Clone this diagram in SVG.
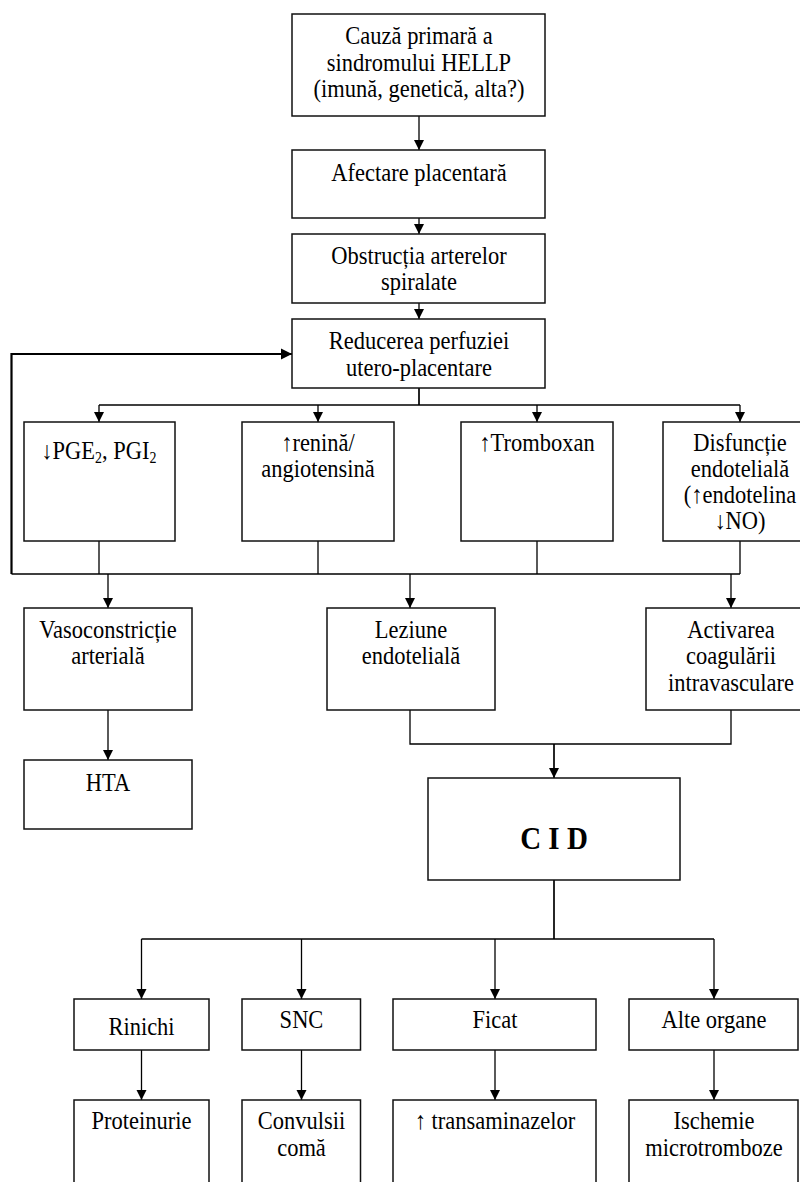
<svg xmlns="http://www.w3.org/2000/svg" width="800" height="1182" viewBox="0 0 800 1182">
<style>
.box{fill:#fff;stroke:#111;stroke-width:1.5}
text{font-family:"Liberation Serif","Times New Roman",serif;font-size:22.5px;fill:#000;text-anchor:middle;transform-box:fill-box;transform-origin:center;transform:scaleY(1.12)}
.ln{fill:none;stroke:#000;stroke-width:1.3}
.ln2{fill:none;stroke:#000;stroke-width:1.7}
.fb{fill:none;stroke:#000;stroke-width:2.2}
.cid{font-size:29px;font-weight:bold}
.sub{font-size:14px}
</style>
<defs>
<marker id="ah" markerUnits="userSpaceOnUse" markerWidth="10" markerHeight="11" refX="10" refY="5.5" orient="auto">
<path d="M0,0.5 L10,5.5 L0,10.5 z" fill="#000"/>
</marker>
<marker id="ahb" markerUnits="userSpaceOnUse" markerWidth="11" markerHeight="12" refX="11" refY="6" orient="auto">
<path d="M0,0.5 L11,6 L0,11.5 z" fill="#000"/>
</marker>
</defs>
<rect width="800" height="1182" fill="#fff"/>
<g id="connectors">
<path class="ln" d="M419,116 V150" marker-end="url(#ah)"/>
<path class="ln" d="M419,218 V234" marker-end="url(#ah)"/>
<path class="ln" d="M419,303 V319" marker-end="url(#ah)"/>
<path class="ln2" d="M419,388 V405"/>
<path class="ln" d="M99,405 H740"/>
<path class="ln" d="M99,405 V422" marker-end="url(#ah)"/>
<path class="ln" d="M318,405 V422" marker-end="url(#ah)"/>
<path class="ln" d="M537,405 V422" marker-end="url(#ah)"/>
<path class="ln" d="M740,405 V422" marker-end="url(#ah)"/>
<path class="ln" d="M99,541 V574 M318,541 V574 M537,541 V574 M740,541 V574 M11.5,574 H740"/>
<path class="fb" d="M11.5,574 V354 H292" marker-end="url(#ahb)"/>
<path class="ln" d="M108,574 V608" marker-end="url(#ah)"/>
<path class="ln" d="M410,574 V608" marker-end="url(#ah)"/>
<path class="ln" d="M731,574 V608" marker-end="url(#ah)"/>
<path class="ln" d="M108,710 V760" marker-end="url(#ah)"/>
<path class="ln" d="M410,710 V744 H731 V710"/>
<path class="ln2" d="M554,744 V778" marker-end="url(#ah)"/>
<path class="ln2" d="M554,880 V939"/>
<path class="ln" d="M141.5,939 H714"/>
<path class="ln" d="M141.5,939 V999" marker-end="url(#ah)"/>
<path class="ln" d="M301.5,939 V999" marker-end="url(#ah)"/>
<path class="ln" d="M495,939 V999" marker-end="url(#ah)"/>
<path class="ln" d="M714,939 V999" marker-end="url(#ah)"/>
<path class="ln" d="M141.5,1050 V1100" marker-end="url(#ah)"/>
<path class="ln" d="M301.5,1050 V1100" marker-end="url(#ah)"/>
<path class="ln" d="M495,1050 V1100" marker-end="url(#ah)"/>
<path class="ln" d="M714,1050 V1100" marker-end="url(#ah)"/>
</g>
<g id="n-cauza"><rect class="box" x="292" y="14" width="253" height="102"/>
<text x="419" y="43">Cauză primară a</text><text x="419" y="70">sindromului HELLP</text><text x="419" y="96">(imună, genetică, alta?)</text></g>
<g id="n-afectare"><rect class="box" x="292" y="150" width="253" height="68"/>
<text x="419" y="180">Afectare placentară</text></g>
<g id="n-obstructia"><rect class="box" x="292" y="234" width="253" height="69"/>
<text x="419" y="263">Obstrucția arterelor</text><text x="419" y="289">spiralate</text></g>
<g id="n-reducerea"><rect class="box" x="292" y="319" width="253" height="69"/>
<text x="419" y="348">Reducerea perfuziei</text><text x="419" y="375">utero-placentare</text></g>
<g id="n-pge"><rect class="box" x="24" y="422" width="151" height="119"/>
<text x="99" y="458">↓PGE<tspan class="sub" dy="4">2</tspan><tspan dy="-4">, PGI</tspan><tspan class="sub" dy="4">2</tspan></text></g>
<g id="n-renina"><rect class="box" x="242" y="422" width="152" height="119"/>
<text x="318" y="450">↑renină/</text><text x="318" y="476">angiotensină</text></g>
<g id="n-tromboxan"><rect class="box" x="461" y="422" width="152" height="119"/>
<text x="537" y="450">↑Tromboxan</text></g>
<g id="n-disfunctie"><rect class="box" x="663" y="422" width="153" height="119"/>
<text x="740" y="450">Disfuncție</text><text x="740" y="476">endotelială</text><text x="740" y="502">(↑endotelina</text><text x="740" y="528">↓NO)</text></g>
<g id="n-vaso"><rect class="box" x="24" y="608" width="168" height="102"/>
<text x="108" y="637">Vasoconstricție</text><text x="108" y="663">arterială</text></g>
<g id="n-leziune"><rect class="box" x="327" y="608" width="168" height="102"/>
<text x="411" y="637">Leziune</text><text x="411" y="663">endotelială</text></g>
<g id="n-activarea"><rect class="box" x="646" y="608" width="170" height="102"/>
<text x="731" y="637">Activarea</text><text x="731" y="663">coagulării</text><text x="731" y="690">intravasculare</text></g>
<g id="n-hta"><rect class="box" x="24" y="760" width="168" height="69"/>
<text x="108" y="790">HTA</text></g>
<g id="n-cid"><rect class="box" x="428" y="778" width="252" height="102"/>
<text class="cid" x="554" y="848">C I D</text></g>
<g id="n-rinichi"><rect class="box" x="74" y="999" width="135" height="51"/>
<text x="141.5" y="1034">Rinichi</text></g>
<g id="n-snc"><rect class="box" x="242" y="999" width="118.5" height="51"/>
<text x="301.5" y="1027">SNC</text></g>
<g id="n-ficat"><rect class="box" x="393" y="999" width="203" height="51"/>
<text x="495" y="1027">Ficat</text></g>
<g id="n-alte"><rect class="box" x="629" y="999" width="169" height="51"/>
<text x="714" y="1027">Alte organe</text></g>
<g id="n-proteinurie"><rect class="box" x="74" y="1100" width="135" height="100"/>
<text x="141.5" y="1128">Proteinurie</text></g>
<g id="n-convulsii"><rect class="box" x="242" y="1100" width="118.5" height="100"/>
<text x="301.5" y="1128">Convulsii</text><text x="301.5" y="1155">comă</text></g>
<g id="n-transaminaze"><rect class="box" x="393" y="1100" width="203" height="100"/>
<text x="495" y="1128">↑ transaminazelor</text></g>
<g id="n-ischemie"><rect class="box" x="629" y="1100" width="169" height="100"/>
<text x="714" y="1128">Ischemie</text><text x="714" y="1155">microtromboze</text></g>
</svg>
